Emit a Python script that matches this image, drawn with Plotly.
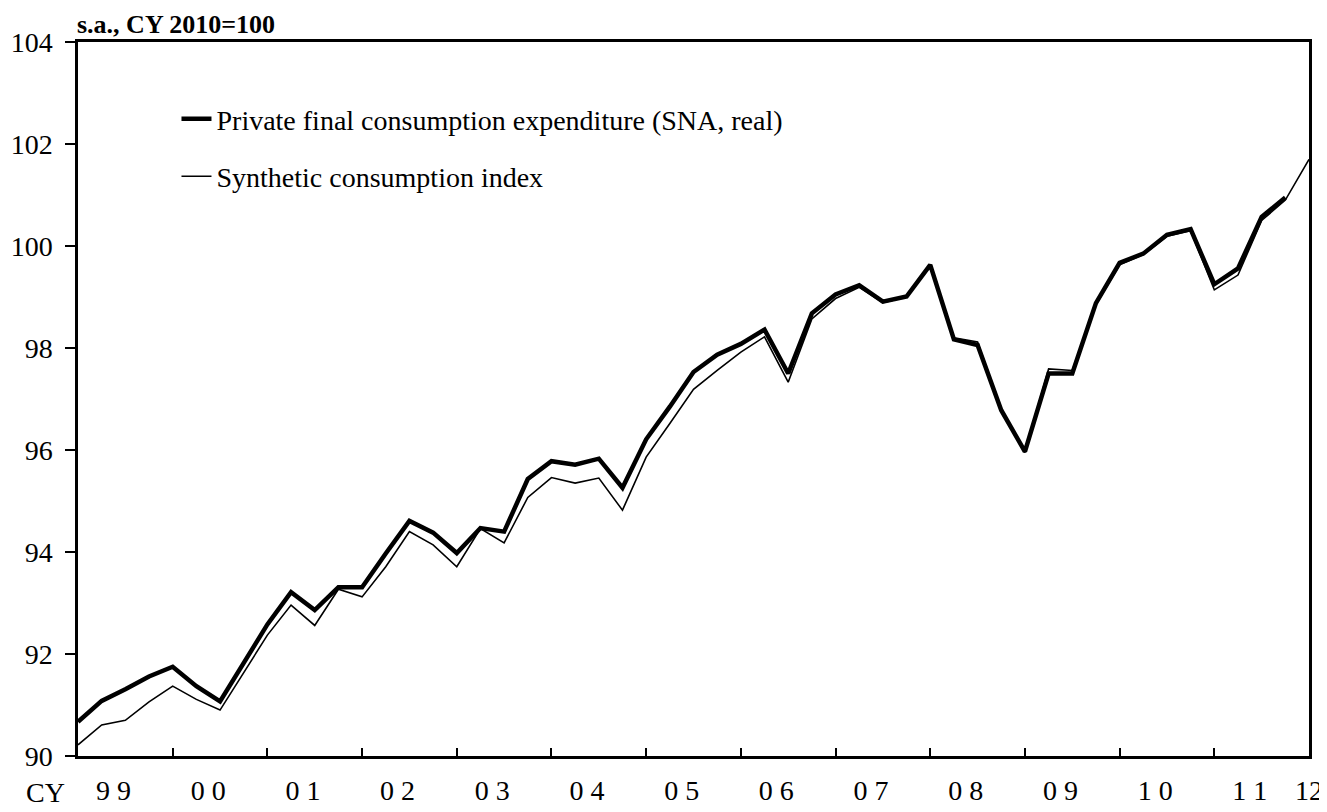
import plotly.graph_objects as go

# ---- data ----
years = list(range(1999, 2012))
quarters = [f"{y}Q{q}" for y in years for q in range(1, 5)] + ["2012Q1"]

year_labels = ["9\u00a09", "0\u00a00", "0\u00a01", "0\u00a02", "0\u00a03",
               "0\u00a04", "0\u00a05", "0\u00a06", "0\u00a07", "0\u00a08",
               "0\u00a09", "1\u00a00", "1\u00a01", "12"]

sna_real = [90.67, 91.08, 91.31, 91.56, 91.75, 91.37, 91.07, 91.82,
            92.58, 93.21, 92.86, 93.31, 93.31, 93.97, 94.61, 94.38,
            93.98, 94.47, 94.40, 95.43, 95.78, 95.71, 95.83, 95.26,
            96.21, 96.85, 97.53, 97.87, 98.08, 98.36, 97.50, 98.68,
            99.05, 99.23, 98.91, 99.01, 99.63, 98.17, 98.06, 96.78,
            95.97, 97.50, 97.50, 98.88, 99.67, 99.85, 100.22, 100.33,
            99.25, 99.56, 100.57, 100.95, None]

synthetic = [90.22, 90.61, 90.70, 91.06, 91.37, 91.11, 90.90, 91.64,
             92.37, 92.96, 92.56, 93.27, 93.12, 93.71, 94.40, 94.14,
             93.71, 94.46, 94.18, 95.07, 95.46, 95.35, 95.45, 94.82,
             95.86, 96.52, 97.19, 97.56, 97.92, 98.22, 97.33, 98.57,
             98.97, 99.19, 98.89, 99.00, 99.62, 98.20, 98.12, 96.78,
             95.95, 97.59, 97.56, 98.85, 99.63, 99.83, 100.19, 100.30,
             99.14, 99.43, 100.50, 100.90, 101.70]

# ---- positions derived from the quarter list ----
xpos = list(range(len(quarters)))
q1_idx = [i for i, q in enumerate(quarters) if q.endswith("Q1")]
tick_pos = q1_idx[1:-1]                      # year boundaries 2000..2011
label_pos = [i + 1.5 for i in q1_idx[:-1]] + [q1_idx[-1]]

FONT = "Liberation Serif"

fig = go.Figure()
fig.add_trace(go.Scatter(
    x=xpos, y=sna_real, mode="lines", customdata=quarters,
    name="Private final consumption expenditure (SNA, real)",
    legendgroup="a",
    line=dict(color="black", width=4.5),
    hovertemplate="%{customdata}: %{y}<extra></extra>"))
fig.add_trace(go.Scatter(
    x=xpos, y=synthetic, mode="lines", customdata=quarters,
    name="Synthetic consumption index",
    legendgroup="b",
    line=dict(color="black", width=1.6),
    hovertemplate="%{customdata}: %{y}<extra></extra>"))
# invisible trace on xaxis2 to carry the year-boundary tick marks
fig.add_trace(go.Scatter(x=[xpos[0], xpos[-1]], y=[None, None], xaxis="x2",
                         showlegend=False, hoverinfo="skip"))

fig.update_layout(
    width=1327, height=812,
    margin=dict(l=70, r=26, t=34, b=64, autoexpand=False),
    paper_bgcolor="white", plot_bgcolor="white",
    font=dict(family=FONT, color="black", size=28),
    showlegend=True,
    legend=dict(x=0.080, y=0.927, xanchor="left", yanchor="top",
                bgcolor="rgba(0,0,0,0)", font=dict(size=28, family=FONT),
                tracegroupgap=18),
    xaxis=dict(range=[xpos[0], xpos[-1]], showgrid=False, zeroline=False,
               showline=True, linecolor="black", linewidth=2.5, mirror=True,
               tickmode="array", tickvals=label_pos, ticktext=year_labels,
               ticks="", ticklabelstandoff=8, automargin=False,
               tickfont=dict(size=28, family=FONT)),
    xaxis2=dict(range=[xpos[0], xpos[-1]], overlaying="x", matches="x",
                side="bottom", anchor="y", showgrid=False, zeroline=False,
                showline=False, tickmode="array", tickvals=tick_pos,
                ticks="inside", ticklen=8, tickwidth=2, tickcolor="black",
                showticklabels=False, automargin=False),
    yaxis=dict(range=[90, 104], dtick=2, tick0=90, showgrid=False,
               zeroline=False, showline=True, linecolor="black", linewidth=2.5,
               mirror=True, ticks="outside", ticklen=10, tickwidth=2,
               tickcolor="black", ticklabelstandoff=7, automargin=False,
               tickfont=dict(size=28, family=FONT)),
    annotations=[
        dict(text="<b>s.a., CY 2010=100</b>", xref="paper", yref="paper",
             x=0, y=1, xanchor="left", yanchor="bottom", showarrow=False,
             font=dict(size=26, family=FONT), yshift=1, xshift=-3),
        dict(text="CY", xref="paper", yref="paper", x=-0.026, y=0,
             xanchor="center", yanchor="top", showarrow=False, yshift=-19,
             font=dict(size=28, family=FONT)),
    ],
)

fig.write_html("out.html")
